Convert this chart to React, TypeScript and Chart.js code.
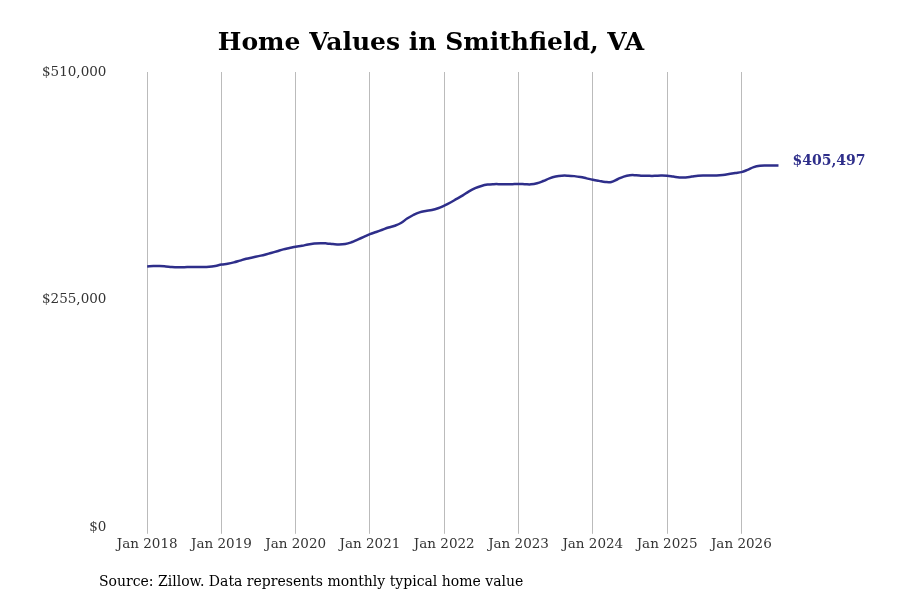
import React, { useEffect, useRef } from "react";
import { Chart, registerables } from "chart.js";
Chart.register(...registerables);

const startYear = 2018;
const values: number[] = [
  292500, 293000, 293000, 292500, 291800, 291500, 291600, 291800, 291800, 291700, 292000, 293000,
  294500, 295500, 297000, 299000, 301000, 302500, 304000, 305500, 307500, 309500, 311500, 313000,
  314500, 315500, 317000, 318000, 318500, 318200, 317500, 317000, 317500, 319500, 322500, 325500,
  328500, 331000, 333500, 336000, 338000, 341000, 346000, 350000, 353000, 354500, 355500, 357500,
  360500, 364000, 368000, 372000, 376500, 380000, 382500, 384000, 384500, 384500, 384300, 384500,
  384700, 384500, 384300, 385500, 388000, 391000, 393000, 394000, 394000, 393500, 392500, 391000,
  389500, 388200, 387000, 387000, 390000, 393000, 394500, 394500, 394000, 393800, 393800, 394200,
  394000, 393000, 392000, 392000, 393000, 394000, 394300, 394300, 394300, 394800, 395800, 397000,
  398000, 400500, 403500, 405000, 405400, 405500, 405497,
];
const yTicks = [0, 255000, 510000];
const xTickYears = [2018, 2019, 2020, 2021, 2022, 2023, 2024, 2025, 2026];
const titleText = "Home Values in Smithfield, VA";
const sourceText = "Source: Zillow. Data represents monthly typical home value";
const lineColor = "#2e2e8a";
const font = "'DejaVu Serif', serif";

export default function App() {
  const ref = useRef<HTMLCanvasElement>(null);
  useEffect(() => {
    const pts = values.map((v, i) => ({ x: i, y: v }));
    const extra = {
      id: "extra",
      afterDraw(c: any) {
        const ctx = c.ctx;
        const meta = c.getDatasetMeta(0);
        const last = meta.data[meta.data.length - 1];
        ctx.save();
        ctx.font = `bold 14px ${font}`;
        ctx.fillStyle = lineColor;
        ctx.textBaseline = "middle";
        ctx.fillText("$" + values[values.length - 1].toLocaleString("en-US"), last.x + 14, last.y - 4);
        ctx.font = `14px ${font}`;
        ctx.fillStyle = "#000";
        ctx.fillText(sourceText, 99, 582);
        ctx.restore();
      },
    };
    const chart = new Chart(ref.current!, {
      type: "line",
      data: {
        datasets: [
          { data: pts, borderColor: lineColor, borderWidth: 2.5, pointRadius: 0, tension: 0.4, fill: false },
        ],
      },
      options: {
        animation: false,
        responsive: false,
        layout: { padding: { left: 34, right: 72, bottom: 44, top: 18 } },
        plugins: {
          legend: { display: false },
          tooltip: { enabled: false },
          title: { display: true, text: titleText, color: "#000", font: { family: font, size: 25, weight: "bold" }, padding: { top: 10, bottom: 14 } },
        },
        scales: {
          x: {
            type: "linear",
            min: -4,
            max: 110,
            afterBuildTicks: (s: any) => { s.ticks = xTickYears.map((y) => ({ value: (y - startYear) * 12 })); },
            ticks: { callback: (v: any) => "Jan " + (startYear + Math.round(v / 12)), color: "#333", font: { family: font, size: 13.5 }, maxRotation: 0, autoSkip: false },
            grid: { color: "#bbbbbb", drawTicks: true, tickLength: 6 },
            border: { display: false },
          },
          y: {
            min: 0,
            max: 510000,
            afterBuildTicks: (s: any) => { s.ticks = yTicks.map((v) => ({ value: v })); },
            ticks: { callback: (v: any) => "$" + Number(v).toLocaleString("en-US"), color: "#333", font: { family: font, size: 13.5 }, padding: 8 },
            grid: { display: false },
            border: { display: false },
          },
        },
      },
      plugins: [extra],
    });
    return () => chart.destroy();
  }, []);
  return (
    <div style={{ position: "fixed", left: 0, top: 0, width: 900, height: 600, background: "#fff" }}>
      <canvas ref={ref} width={900} height={600} style={{ width: 900, height: 600 }} />
    </div>
  );
}
